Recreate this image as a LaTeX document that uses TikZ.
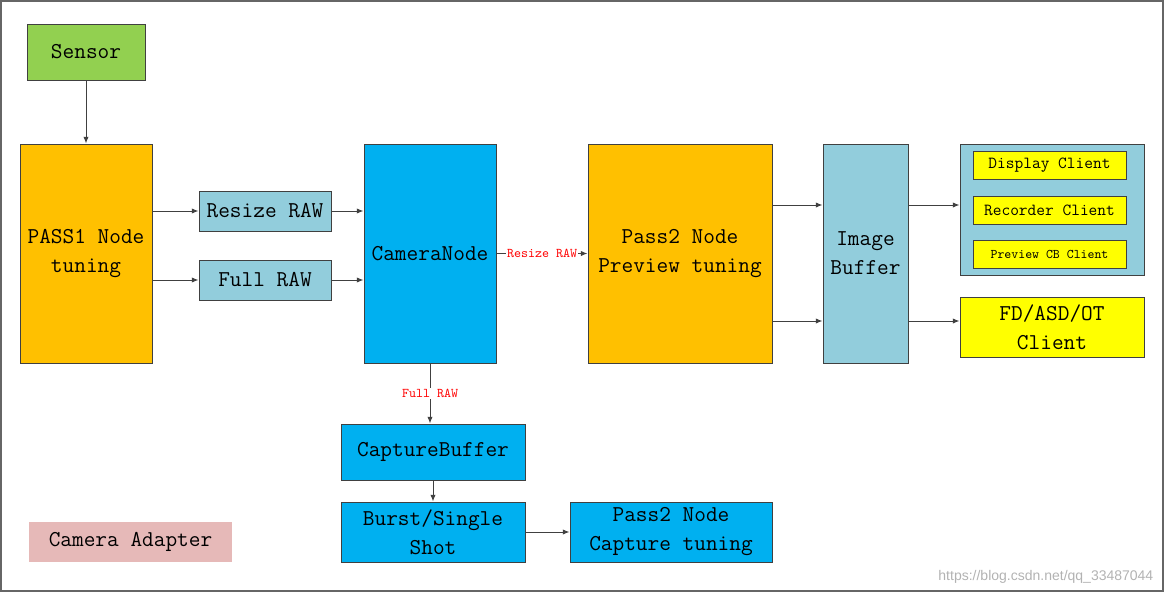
\documentclass[tikz,border=0pt]{standalone}
\usepackage{fontspec}
\newfontfamily\diagfont{Latin Modern Mono}
\newfontfamily\markfont{Liberation Sans}
\usetikzlibrary{arrows.meta, positioning, calc}
\definecolor{sensorgreen}{RGB}{146,208,80}
\definecolor{tuneorange}{RGB}{255,192,0}
\definecolor{rawblue}{RGB}{146,205,220}
\definecolor{nodeblue}{RGB}{0,176,240}
\definecolor{clientyellow}{RGB}{255,255,0}
\definecolor{adapterpink}{RGB}{230,185,184}
\definecolor{edgegray}{RGB}{64,64,64}

\begin{document}
\begin{tikzpicture}[x=0.75pt, y=-0.75pt,
  blk/.style={draw=edgegray, line width=0.75pt, align=center, inner sep=0pt, font=\diagfont\fontsize{17}{21.75}\selectfont},
  client/.style={blk, fill=clientyellow, minimum width=114.75pt, minimum height=21pt, font=\diagfont\fontsize{12.7}{14}\selectfont},
  flow/.style={draw=edgegray, line width=0.75pt, -{Latex[length=5pt,width=4pt]}},
  tag/.style={text=red, fill=white, inner sep=1pt, font=\diagfont\fontsize{10}{11}\selectfont}
]
  \useasboundingbox (0,0) rectangle (1165,594);
  \draw[draw=black!60, line width=1.2pt] (1,1) rectangle (1163,591);

  % top row
  \node[blk, fill=sensorgreen, minimum width=88.5pt, minimum height=42pt] (sensor) at (86,52) {Sensor};
  \node[blk, fill=tuneorange, minimum width=99pt, minimum height=164.25pt] (pass1) at (86,253.5) {PASS1 Node\\tuning};
  \node[blk, fill=rawblue, minimum width=99pt, minimum height=30pt] (resize) at (265,211) {Resize RAW};
  \node[blk, fill=rawblue, minimum width=99pt, minimum height=30pt] (full) at (265,280) {Full RAW};
  \node[blk, fill=nodeblue, minimum width=99pt, minimum height=164.25pt] (cam) at (430,253.5) {CameraNode};
  \node[blk, fill=tuneorange, minimum width=138pt, minimum height=164.25pt] (p2prev) at (680,253.5) {Pass2 Node\\Preview tuning};
  \node[blk, fill=rawblue, minimum width=63.75pt, minimum height=164.25pt] (imgbuf) at (865.5,253.5) {Image\\Buffer};

  % clients
  \node[blk, fill=rawblue, minimum width=138pt, minimum height=98.25pt] (clients) at (1052,209.5) {};
  \node[client] (display) at (1049.5,165) {Display Client};
  \node[client] (recorder) at (1049.5,210) {Recorder Client};
  \node[client, font=\diagfont\fontsize{9.9}{11}\selectfont] (previewcb) at (1049.5,254) {Preview CB Client};
  \node[blk, fill=clientyellow, minimum width=138pt, minimum height=45pt] (fd) at (1052,327) {FD/ASD/OT\\Client};

  % capture path
  \node[blk, fill=nodeblue, minimum width=138pt, minimum height=42pt] (capbuf) at (433,452) {CaptureBuffer};
  \node[blk, fill=nodeblue, minimum width=138pt, minimum height=45pt] (burst) at (433,532) {Burst/Single\\Shot};
  \node[blk, fill=nodeblue, minimum width=151.5pt, minimum height=45pt] (p2cap) at (671,532) {Pass2 Node\\Capture tuning};

  \node[blk, draw=none, fill=adapterpink, minimum width=152.25pt, minimum height=30pt] (adapter) at (130.5,542) {Camera Adapter};

  \node[text=black!30, font=\markfont\fontsize{10.5}{12}\selectfont, anchor=east] (mark) at (1158,577) {https://blog.csdn.net/qq\_33487044};

  \coordinate (upper) at (0,205);
  \coordinate (lower) at (0,321);

  % connectors
  \draw[flow] (sensor) -- (pass1);
  \draw[flow] (pass1.east |- resize) -- (resize);
  \draw[flow] (resize) -- (cam.west |- resize);
  \draw[flow] (pass1.east |- full) -- (full);
  \draw[flow] (full) -- (cam.west |- full);
  \draw[flow] (cam) -- node[tag] {Resize RAW} (p2prev);
  \draw[flow] (cam.south) -- node[tag] {Full RAW} (cam.south |- capbuf.north);
  \draw[flow] (capbuf) -- (burst);
  \draw[flow] (burst) -- (p2cap);
  \draw[flow] (p2prev.east |- upper) -- (imgbuf.west |- upper);
  \draw[flow] (p2prev.east |- lower) -- (imgbuf.west |- lower);
  \draw[flow] (imgbuf.east |- upper) -- (clients.west |- upper);
  \draw[flow] (imgbuf.east |- lower) -- (fd.west |- lower);
\end{tikzpicture}
\end{document}
